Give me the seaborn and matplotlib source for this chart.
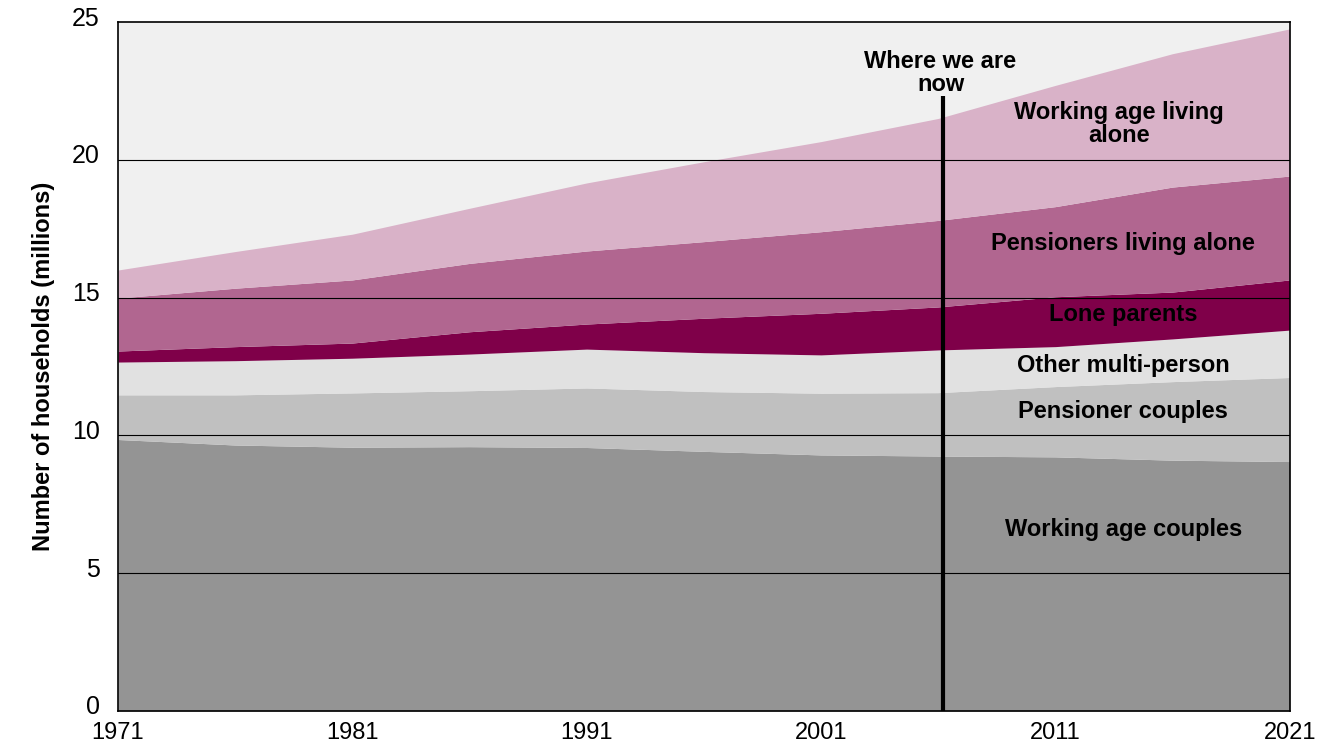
import pandas as pd
import matplotlib
matplotlib.use("Agg")
import matplotlib.pyplot as plt
import matplotlib.transforms as mtransforms
import seaborn as sns

# values (millions of households)
years = [1971, 1976, 1981, 1986, 1991, 1996, 2001, 2006, 2011, 2016, 2021]
working_age_couples = [9.85, 9.65, 9.57, 9.59, 9.56, 9.42, 9.29, 9.25, 9.22, 9.10, 9.05]
pensioner_couples = [1.62, 1.82, 1.97, 2.03, 2.16, 2.17, 2.24, 2.30, 2.55, 2.85, 3.05]
other_multi_person = [1.19, 1.24, 1.26, 1.33, 1.41, 1.41, 1.39, 1.55, 1.45, 1.55, 1.72]
lone_parents = [0.40, 0.51, 0.55, 0.81, 0.91, 1.25, 1.51, 1.56, 1.81, 1.70, 1.82]
pensioners_alone = [1.92, 2.12, 2.29, 2.48, 2.65, 2.78, 2.96, 3.14, 3.27, 3.81, 3.77]
working_age_alone = [1.02, 1.33, 1.66, 2.00, 2.47, 2.90, 3.27, 3.70, 4.40, 4.84, 5.34]

series = ["Working age couples", "Pensioner couples", "Other multi-person",
          "Lone parents", "Pensioners living alone", "Working age living\nalone"]
colors = ["#949494", "#c0c0c0", "#e1e1e1", "#7f0049", "#b16690", "#d9b2c8"]
now_year = 2006.2

data = pd.DataFrame({
    "year": years,
    series[0]: working_age_couples,
    series[1]: pensioner_couples,
    series[2]: other_multi_person,
    series[3]: lone_parents,
    series[4]: pensioners_alone,
    series[5]: working_age_alone,
})

sns.set_style("white")
plt.rcParams["font.family"] = ["Liberation Sans", "DejaVu Sans"]
plt.rcParams["text.color"] = "black"
plt.rcParams["axes.labelcolor"] = "black"
plt.rcParams["xtick.color"] = "black"
plt.rcParams["ytick.color"] = "black"

fig = plt.figure(figsize=(13.33, 7.46), dpi=100)
ax = fig.add_axes([0.0885, 0.047, 0.879, 0.9235])
ax.set_facecolor("#f0f0f0")

ax.stackplot(data["year"], [data[s] for s in series], colors=sns.color_palette(colors), linewidth=0)

for y in [5, 10, 15, 20]:
    ax.axhline(y, color="black", lw=0.8, zorder=3)

ax.plot([now_year, now_year], [0, 22.3], color="black", lw=3, zorder=4, solid_capstyle="butt")
ax.text(now_year - 0.1, 23.15, "Where we are\nnow", ha="center", va="center",
        fontsize=17, fontweight="bold", linespacing=1.0)

# label positions (year, value)
label_pos = [(2013.9, 6.6), (2013.9, 10.85), (2013.9, 12.55), (2013.9, 14.37),
             (2013.9, 16.98), (2013.7, 21.3)]
for name, (lx, ly) in zip(series, label_pos):
    ax.text(lx, ly, name, ha="center", va="center", fontsize=17, fontweight="bold",
            linespacing=1.0, zorder=5)

ax.set_xlim(1971, 2021)
ax.set_ylim(0, 25)
ax.set_xticks([1971, 1981, 1991, 2001, 2011, 2021])
ax.set_yticks([0, 5, 10, 15, 20, 25])
ax.tick_params(axis="x", labelsize=17, length=0, pad=8)
ax.tick_params(axis="y", labelsize=18, length=0, pad=13)
for lab in ax.get_xticklabels():
    lab.set_family(["Liberation Sans Narrow", "Liberation Sans"])
# y labels sit a few pixels above their gridlines in the original
shift = mtransforms.ScaledTranslation(0, 6 / 100, fig.dpi_scale_trans)
for lab in ax.get_yticklabels():
    lab.set_transform(lab.get_transform() + shift)
ax.set_ylabel("Number of households (millions)", fontsize=17, fontweight="bold", labelpad=12)

for sp in ax.spines.values():
    sp.set_visible(True)
    sp.set_color("black")
    sp.set_linewidth(1.2)
    sp.set_zorder(6)

fig.savefig("out.png", dpi=100)
